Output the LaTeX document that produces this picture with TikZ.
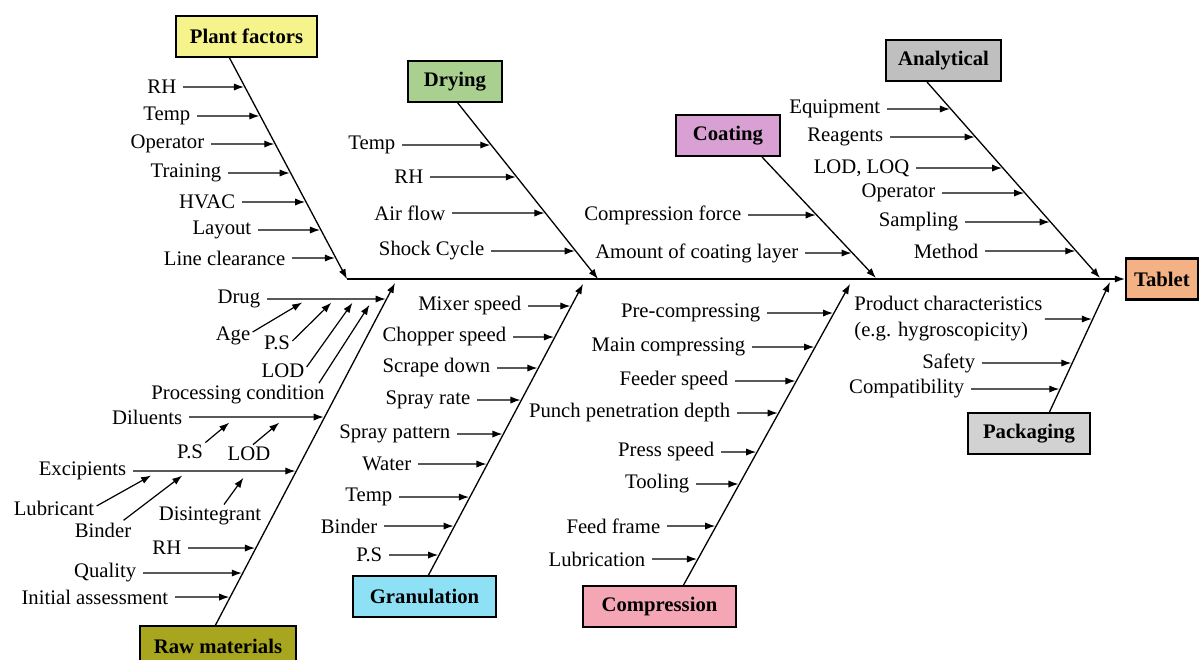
\documentclass[tikz,border=0pt]{standalone}
\usepackage{fontspec}
\setmainfont{Liberation Serif}
\usetikzlibrary{arrows.meta}

\definecolor{plantcol}{RGB}{245,243,140}
\definecolor{dryingcol}{RGB}{169,208,142}
\definecolor{coatingcol}{RGB}{217,160,211}
\definecolor{analyticcol}{RGB}{191,191,191}
\definecolor{tabletcol}{RGB}{244,177,131}
\definecolor{rawcol}{RGB}{168,166,30}
\definecolor{granulcol}{RGB}{142,224,245}
\definecolor{compresscol}{RGB}{244,166,180}
\definecolor{packcol}{RGB}{210,210,210}

\begin{document}
\begin{tikzpicture}[x=0.5pt,y=-0.5pt,font=\fontsize{10.35}{13}\selectfont,
  box/.style={draw,line width=1.1pt,font=\fontsize{10.35}{13}\selectfont\bfseries,minimum height=20.5pt,inner sep=0pt},
  cause/.style={anchor=east,inner ysep=1pt,inner xsep=3.2pt},
  sub/.style={inner sep=1pt},
  arr/.style={line width=0.6pt,shorten >=0.5pt,-{Latex[length=5pt,width=3.6pt]}},
  rib/.style={line width=0.65pt,-{Latex[length=5pt,width=3.6pt]}}]
\useasboundingbox (0,0) rectangle (1200,659);

% category boxes
\node[box,fill=plantcol,minimum width=70.5pt] (plant) at (246.5,36.5) {Plant factors};
\node[box,fill=dryingcol,minimum width=47pt] (drying) at (455,81.5) {Drying};
\node[box,fill=coatingcol,minimum width=52pt] (coating) at (728,135.5) {Coating};
\node[box,fill=analyticcol,minimum width=57.5pt] (analytical) at (943.5,60.5) {Analytical};
\node[box,fill=tabletcol,minimum width=36pt] (tablet) at (1162,279) {Tablet};
\node[box,fill=rawcol,minimum width=78pt] (raw) at (218,646.5) {Raw materials};
\node[box,fill=granulcol,minimum width=71.5pt] (granul) at (424.5,596.5) {Granulation};
\node[box,fill=compresscol,minimum width=76.5pt] (compress) at (659.5,606.5) {Compression};
\node[box,fill=packcol,minimum width=61pt] (pack) at (1029,433.5) {Packaging};

% ribs and spine
\coordinate (pfA) at (229,57);
\coordinate (pfB) at (347,279);
\coordinate (drA) at (457,102);
\coordinate (drB) at (598,279);
\coordinate (coA) at (762,157);
\coordinate (coB) at (876,278);
\coordinate (anA) at (927,82);
\coordinate (anB) at (1100,278);
\coordinate (rmA) at (215,626);
\coordinate (rmB) at (395,283);
\coordinate (grA) at (428,576);
\coordinate (grB) at (583,284);
\coordinate (cpA) at (683,586);
\coordinate (cpB) at (850,284);
\coordinate (pkA) at (1049,413);
\coordinate (pkB) at (1110,282);
\draw[rib] (pfA) -- (pfB);
\draw[rib] (drA) -- (drB);
\draw[rib] (coA) -- (coB);
\draw[rib] (anA) -- (anB);
\draw[rib] (rmA) -- (rmB);
\draw[rib] (grA) -- (grB);
\draw[rib] (cpA) -- (cpB);
\draw[rib] (pkA) -- (pkB);
\draw[rib] (pfB) -- (tablet.west);

% Plant factors
\node[cause] (pf1) at (183,87) {RH};
\node[cause] (pf2) at (197,116) {Temp};
\node[cause] (pf3) at (211,144) {Operator};
\node[cause] (pf4) at (228,173) {Training};
\node[cause] (pf5) at (242,202) {HVAC};
\node[cause] (pf6) at (258,230) {Layout};
\node[cause] (pf7) at (292,258) {Line clearance};
\draw[arr] (pf1.east) -- (intersection of pfA--pfB and pf1.east--pf1.west);
\draw[arr] (pf2.east) -- (intersection of pfA--pfB and pf2.east--pf2.west);
\draw[arr] (pf3.east) -- (intersection of pfA--pfB and pf3.east--pf3.west);
\draw[arr] (pf4.east) -- (intersection of pfA--pfB and pf4.east--pf4.west);
\draw[arr] (pf5.east) -- (intersection of pfA--pfB and pf5.east--pf5.west);
\draw[arr] (pf6.east) -- (intersection of pfA--pfB and pf6.east--pf6.west);
\draw[arr] (pf7.east) -- (intersection of pfA--pfB and pf7.east--pf7.west);

% Drying
\node[cause] (dr1) at (402,145) {Temp};
\node[cause] (dr2) at (430,177) {RH};
\node[cause] (dr3) at (452,213) {Air flow};
\node[cause] (dr4) at (491,251) {Shock Cycle};
\draw[arr] (dr1.east) -- (intersection of drA--drB and dr1.east--dr1.west);
\draw[arr] (dr2.east) -- (intersection of drA--drB and dr2.east--dr2.west);
\draw[arr] (dr3.east) -- (intersection of drA--drB and dr3.east--dr3.west);
\draw[arr] (dr4.east) -- (intersection of drA--drB and dr4.east--dr4.west);

% Coating
\node[cause] (co1) at (748,215) {Compression force};
\node[cause] (co2) at (805,253) {Amount of coating layer};
\draw[arr] (co1.east) -- (intersection of coA--coB and co1.east--co1.west);
\draw[arr] (co2.east) -- (intersection of coA--coB and co2.east--co2.west);

% Analytical
\node[cause] (an1) at (887,109) {Equipment};
\node[cause] (an2) at (890,137) {Reagents};
\node[cause] (an3) at (916,168) {LOD, LOQ};
\node[cause] (an4) at (942,193) {Operator};
\node[cause] (an5) at (965,222) {Sampling};
\node[cause] (an6) at (985,251) {Method};
\draw[arr] (an1.east) -- (intersection of anA--anB and an1.east--an1.west);
\draw[arr] (an2.east) -- (intersection of anA--anB and an2.east--an2.west);
\draw[arr] (an3.east) -- (intersection of anA--anB and an3.east--an3.west);
\draw[arr] (an4.east) -- (intersection of anA--anB and an4.east--an4.west);
\draw[arr] (an5.east) -- (intersection of anA--anB and an5.east--an5.west);
\draw[arr] (an6.east) -- (intersection of anA--anB and an6.east--an6.west);

% Raw materials
\node[cause] (rm1) at (267,299) {Drug};
\node[cause] (rm2) at (189,417) {Diluents};
\node[cause] (rm3) at (133,471) {Excipients};
\node[cause] (rm4) at (188,548) {RH};
\node[cause] (rm5) at (143,573) {Quality};
\node[cause] (rm6) at (175,597) {Initial assessment};
\draw[arr] (rm1.east) -- (intersection of rmA--rmB and rm1.east--rm1.west);
\draw[arr] (rm2.east) -- (intersection of rmA--rmB and rm2.east--rm2.west);
\draw[arr] (rm3.east) -- (intersection of rmA--rmB and rm3.east--rm3.west);
\draw[arr] (rm4.east) -- (intersection of rmA--rmB and rm4.east--rm4.west);
\draw[arr] (rm5.east) -- (intersection of rmA--rmB and rm5.east--rm5.west);
\draw[arr] (rm6.east) -- (intersection of rmA--rmB and rm6.east--rm6.west);

% sub causes of drug, diluents, excipients
\node[sub] (age) at (233,336) {Age};
\node[sub] (dps) at (277,343) {P.S};
\node[sub] (dlod) at (283,371) {LOD};
\node[sub] (proc) at (238,395) {Processing condition};
\node[sub] (lps) at (190,452) {P.S};
\node[sub] (llod) at (249,454) {LOD};
\node[sub] (lub) at (54,508) {Lubricant};
\node[sub] (bind) at (103,530) {Binder};
\node[sub] (disi) at (210,516) {Disintegrant};
\coordinate (ageT) at (303,302);
\coordinate (dpsT) at (332,302);
\coordinate (dlodT) at (353,302);
\coordinate (procT) at (370,304);
\coordinate (lpsT) at (230,422);
\coordinate (llodT) at (280,422);
\coordinate (lubT) at (152,475);
\coordinate (bindT) at (183,475);
\coordinate (disiT) at (244,477);
\draw[arr] ([yshift=2pt]age.east) -- (ageT);
\draw[arr] ([yshift=1pt]dps.east) -- (dpsT);
\draw[arr] ([yshift=2pt]dlod.east) -- (dlodT);
\draw[arr] ([xshift=-4pt]proc.north east) -- (procT);
\draw[arr] (lps.north east) -- (lpsT);
\draw[arr] ([xshift=2pt]llod.north) -- (llodT);
\draw[arr] ([yshift=1pt]lub.east) -- (lubT);
\draw[arr] ([xshift=-5pt]bind.north east) -- (bindT);
\draw[arr] ([xshift=7pt]disi.north) -- (disiT);

% Granulation
\node[cause] (gr1) at (528,306) {Mixer speed};
\node[cause] (gr2) at (513,337) {Chopper speed};
\node[cause] (gr3) at (497,368) {Scrape down};
\node[cause] (gr4) at (477,400) {Spray rate};
\node[cause] (gr5) at (457,434) {Spray pattern};
\node[cause] (gr6) at (418,464) {Water};
\node[cause] (gr7) at (399,497) {Temp};
\node[cause] (gr8) at (384,526) {Binder};
\node[cause] (gr9) at (389,555) {P.S};
\draw[arr] (gr1.east) -- (intersection of grA--grB and gr1.east--gr1.west);
\draw[arr] (gr2.east) -- (intersection of grA--grB and gr2.east--gr2.west);
\draw[arr] (gr3.east) -- (intersection of grA--grB and gr3.east--gr3.west);
\draw[arr] (gr4.east) -- (intersection of grA--grB and gr4.east--gr4.west);
\draw[arr] (gr5.east) -- (intersection of grA--grB and gr5.east--gr5.west);
\draw[arr] (gr6.east) -- (intersection of grA--grB and gr6.east--gr6.west);
\draw[arr] (gr7.east) -- (intersection of grA--grB and gr7.east--gr7.west);
\draw[arr] (gr8.east) -- (intersection of grA--grB and gr8.east--gr8.west);
\draw[arr] (gr9.east) -- (intersection of grA--grB and gr9.east--gr9.west);

% Compression
\node[cause] (cp1) at (767,313) {Pre-compressing};
\node[cause] (cp2) at (752,347) {Main compressing};
\node[cause] (cp3) at (735,381) {Feeder speed};
\node[cause] (cp4) at (737,413) {Punch penetration depth};
\node[cause] (cp5) at (721,452) {Press speed};
\node[cause] (cp6) at (696,484) {Tooling};
\node[cause] (cp7) at (667,526) {Feed frame};
\node[cause] (cp8) at (652,559) {Lubrication};
\draw[arr] (cp1.east) -- (intersection of cpA--cpB and cp1.east--cp1.west);
\draw[arr] (cp2.east) -- (intersection of cpA--cpB and cp2.east--cp2.west);
\draw[arr] (cp3.east) -- (intersection of cpA--cpB and cp3.east--cp3.west);
\draw[arr] (cp4.east) -- (intersection of cpA--cpB and cp4.east--cp4.west);
\draw[arr] (cp5.east) -- (intersection of cpA--cpB and cp5.east--cp5.west);
\draw[arr] (cp6.east) -- (intersection of cpA--cpB and cp6.east--cp6.west);
\draw[arr] (cp7.east) -- (intersection of cpA--cpB and cp7.east--cp7.west);
\draw[arr] (cp8.east) -- (intersection of cpA--cpB and cp8.east--cp8.west);

% Packaging
\node[anchor=west,align=left,inner xsep=1pt] (pk1) at (852,319) {Product characteristics\\(e.g. hygroscopicity)};
\node[cause] (pk2) at (982,363) {Safety};
\node[cause] (pk3) at (971,389) {Compatibility};
\draw[arr] (pk1.east) -- (intersection of pkA--pkB and pk1.east--pk1.west);
\draw[arr] (pk2.east) -- (intersection of pkA--pkB and pk2.east--pk2.west);
\draw[arr] (pk3.east) -- (intersection of pkA--pkB and pk3.east--pk3.west);

\end{tikzpicture}
\end{document}
